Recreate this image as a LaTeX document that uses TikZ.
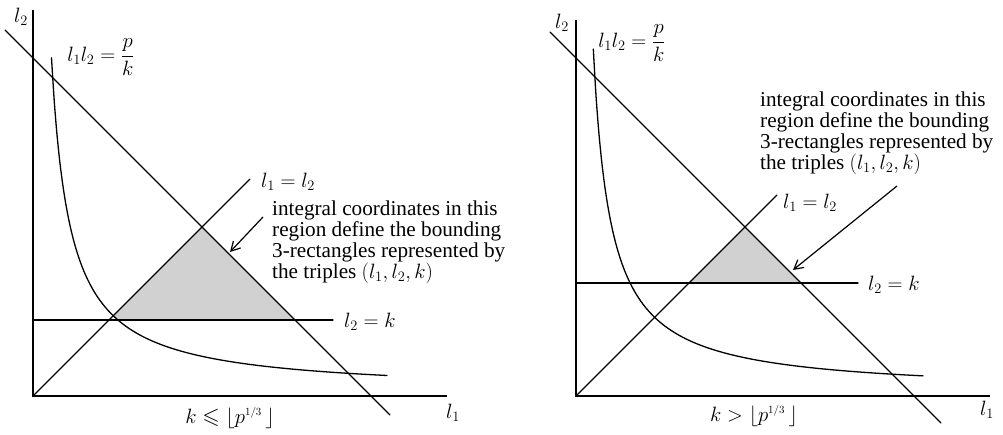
\documentclass[tikz,border=0pt]{standalone}
\usepackage{amsmath,amssymb}
\usepackage{fontspec}
\setmainfont{Liberation Serif}
\usetikzlibrary{arrows.meta}
\tikzset{
  ln/.style={line width=1.3pt, line cap=round},
  ax/.style={line width=1.3pt},
  shade/.style={fill=black!18},
  lab/.style={font=\fontsize{22.5}{24}\selectfont, inner sep=0pt},
  note/.style={font=\fontsize{21.2}{20.7}\selectfont, inner sep=0pt, align=left, anchor=north west},
  ptr/.style={line width=1.2pt, -{Straight Barb[length=9pt,width=10pt]}},
}
\newcommand{\onethird}{\scriptscriptstyle 1/3}
\begin{document}
\begin{tikzpicture}[x=1pt,y=1pt]
\useasboundingbox (0,0) rectangle (1003,434);
% ---------------- left panel ----------------
\begin{scope}[shift={(33,38)}]
  \fill[shade] (80.3,80.3) -- (169,169) -- (262,76) -- (85,76)
     plot[domain=85:80.3,samples=5] (\x,{3+6200/\x}) -- cycle;
  \coordinate (LO) at (0,0);
  \coordinate (LYT) at (0,386);
  \coordinate (LXR) at (414,0);
  \coordinate (LA1) at (-28,366);
  \coordinate (LA2) at (357,-19);
  \coordinate (LD2) at (217,217);
  \coordinate (LK1) at (0,76);
  \coordinate (LK2) at (300,76);
  \coordinate (LP1) at (230,179);
  \coordinate (LP2) at (197,144);
  \draw[ax] (LYT) -- (LO) -- (LXR);
  \draw[ln] (LA1) -- (LA2);
  \draw[ln] (LO) -- (LD2);
  \draw[ln] (LK1) -- (LK2);
  \draw[ln] plot[domain=18.5:354,samples=120,smooth] (\x,{3+6200/\x});
  \draw[ptr] (LP1) -- (LP2);
\end{scope}
\node[lab] (ll2) at (21,417) {$l_2$};
\node[lab] (ll1) at (453,21) {$l_1$};
\node[lab] (lhyp) at (101,377) {$l_1l_2=\dfrac{p}{k}$};
\node[lab,anchor=west] (ldiag) at (261,252) {$l_1=l_2$};
\node[lab,anchor=west] (lk) at (344,112) {$l_2=k$};
\node[note] (lnote) at (272,233) {integral coordinates in this\\region define the bounding\\3-rectangles represented by\\the triples $(l_1,l_2,k)$};
\node[lab] (lcap) at (230,16) {$k\leqslant\lfloor p^{\onethird}\,\rfloor$};
% ---------------- right panel ----------------
\begin{scope}[shift={(576,38)}]
  \fill[shade] (113,113) -- (169,169) -- (225,113) -- cycle;
  \coordinate (RO) at (0,0);
  \coordinate (RYT) at (0,376);
  \coordinate (RXR) at (414,0);
  \coordinate (RA1) at (-26,364);
  \coordinate (RA2) at (365,-27);
  \coordinate (RD2) at (201,201);
  \coordinate (RK1) at (0,113);
  \coordinate (RK2) at (282,113);
  \coordinate (RP1) at (321,210);
  \coordinate (RP2) at (217,126);
  \draw[ax] (RYT) -- (RO) -- (RXR);
  \draw[ln] (RA1) -- (RA2);
  \draw[ln] (RO) -- (RD2);
  \draw[ln] (RK1) -- (RK2);
  \draw[ln] plot[domain=17.3:347,samples=120,smooth] (\x,{3+5950/\x});
  \draw[ptr] (RP1) -- (RP2);
\end{scope}
\node[lab] (rl2) at (562,411) {$l_2$};
\node[lab] (rl1) at (987,24) {$l_1$};
\node[lab] (rhyp) at (632,391) {$l_1l_2=\dfrac{p}{k}$};
\node[lab,anchor=west] (rdiag) at (783,231) {$l_1=l_2$};
\node[lab,anchor=west] (rk) at (868,149) {$l_2=k$};
\node[note] (rnote) at (760,342) {integral coordinates in this\\region define the bounding\\3-rectangles represented by\\the triples $(l_1,l_2,k)$};
\node[lab] (rcap) at (754,18) {$k>\lfloor p^{\onethird}\,\rfloor$};
\end{tikzpicture}
\end{document}
